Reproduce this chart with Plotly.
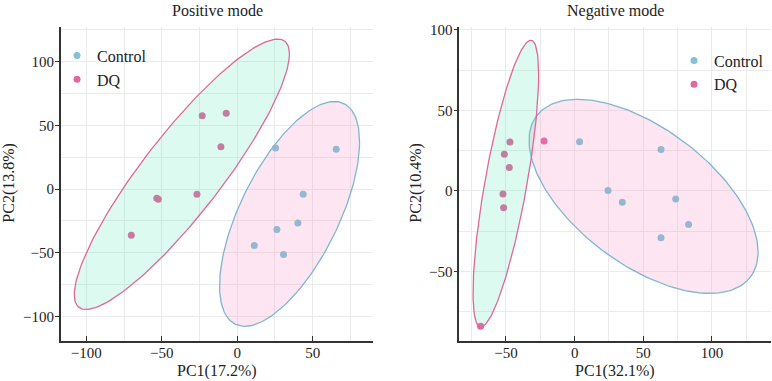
import numpy as np
import plotly.graph_objects as go

# ---------------- data ----------------
groups = ["Control", "DQ"]

# Positive mode scores
pos_control_pc1 = [25.4, 65.6, 43.7, 40.2, 26.3, 11.3, 30.7]
pos_control_pc2 = [32.3, 31.2, -4.1, -26.6, -31.8, -44.4, -51.4]
pos_dq_pc1 = [-70.2, -53.3, -52.3, -26.7, -23.2, -7.3, -10.8]
pos_dq_pc2 = [-36.2, -7.2, -8.0, -4.1, 57.6, 59.5, 33.3]

# Negative mode scores
neg_control_pc1 = [3.6, 62.9, 24.3, 34.7, 73.6, 83.0, 62.9]
neg_control_pc2 = [30.6, 25.7, 0.2, -7.0, -5.0, -20.9, -29.2]
neg_dq_pc1 = [-47.1, -51.2, -47.6, -52.2, -51.7, -68.5, -22.3]
neg_dq_pc2 = [30.4, 22.8, 14.5, -1.9, -10.5, -84.1, 31.0]

# 95% ellipse statistics: centre x, centre y, half-width x, half-height y, correlation
pos_control_ellipse = [34.7, -19.5, 46.4, 88.3, 0.64]
pos_dq_ellipse = [-36.7, 11.6, 71.3, 106.2, 0.89]
neg_control_ellipse = [50.2, -3.4, 83.4, 60.3, -0.575]
neg_dq_ellipse = [-50.1, 4.5, 23.9, 89.1, 0.76]

pct_pos = ["17.2%", "13.8%"]
pct_neg = ["32.1%", "10.4%"]

# ---------------- style ----------------
W, H = 772, 381
FONT = "Liberation Serif"
col_point = {"Control": "#80c3d6", "DQ": "#e0689e"}
col_line = {"Control": "#7fb6cf", "DQ": "#e0679a"}
col_fill = {"Control": "rgba(245,130,190,0.20)", "DQ": "rgba(60,225,165,0.18)"}


def ellipse(params, n=200):
    cx, cy, sx, sy, r = params
    t = np.linspace(0, 2 * np.pi, n)
    x = cx + sx * np.cos(t)
    y = cy + sy * (r * np.cos(t) + np.sqrt(1 - r * r) * np.sin(t))
    return x, y


fig = go.Figure()

panels = [
    ("x", "y", "legend", {"Control": (pos_control_pc1, pos_control_pc2), "DQ": (pos_dq_pc1, pos_dq_pc2)},
     {"Control": pos_control_ellipse, "DQ": pos_dq_ellipse}),
    ("x2", "y2", "legend2", {"Control": (neg_control_pc1, neg_control_pc2), "DQ": (neg_dq_pc1, neg_dq_pc2)},
     {"Control": neg_control_ellipse, "DQ": neg_dq_ellipse}),
]

for xa, ya, lg, pts, ells in panels:
    for g in groups:
        fig.add_trace(go.Scatter(
            x=pts[g][0], y=pts[g][1], mode="markers", name=g,
            marker=dict(size=7, color=col_point[g]),
            xaxis=xa, yaxis=ya, legend=lg, showlegend=True,
        ))
    for g in groups:
        ex, ey = ellipse(ells[g])
        fig.add_trace(go.Scatter(
            x=ex, y=ey, mode="lines", fill="toself", fillcolor=col_fill[g],
            line=dict(color=col_line[g], width=1.3),
            xaxis=xa, yaxis=ya, showlegend=False, hoverinfo="skip",
        ))

grid = "#ebebeb"
axis_common = dict(
    showline=True, linecolor="#333333", linewidth=1.5, mirror=False,
    showgrid=True, gridcolor=grid, gridwidth=1, zeroline=False,
    tickfont=dict(family=FONT, size=15, color="#222222"),
    tickcolor="#333333", tickwidth=1.2,
    dtick=50, tick0=0,
    minor=dict(dtick=25, showgrid=True, gridcolor=grid, gridwidth=1, ticklen=0),
)
xaxis_extra = dict(ticks="inside", ticklen=5, ticklabelstandoff=-2)
yaxis_extra = dict(ticks="outside", ticklen=4, ticklabelstandoff=-2)

ytop = 1 - 22.7 / H
ybot = 1 - 340 / H

fig.update_layout(
    width=W, height=H,
    margin=dict(l=0, r=0, t=0, b=0),
    paper_bgcolor="white", plot_bgcolor="white",
    font=dict(family=FONT, size=16, color="#222222"),
    xaxis=dict(domain=[60.7 / W, 373 / W], range=[-117, 90], anchor="y", **xaxis_extra, **axis_common),
    yaxis=dict(domain=[ybot, ytop], range=[-119, 127], anchor="x", **yaxis_extra, **axis_common),
    xaxis2=dict(domain=[459.3 / W, 771 / W], range=[-84, 143], anchor="y2", **xaxis_extra, **axis_common),
    yaxis2=dict(domain=[ybot, ytop], range=[-93, 101.6], anchor="x2", **yaxis_extra, **axis_common),
    legend=dict(x=57 / W, y=1 - 34 / H, xanchor="left", yanchor="top",
                bgcolor="rgba(0,0,0,0)", font=dict(family=FONT, size=16, color="#222222"),
                itemwidth=30, tracegroupgap=0),
    legend2=dict(x=674 / W, y=1 - 39 / H, xanchor="left", yanchor="top",
                 bgcolor="rgba(0,0,0,0)", font=dict(family=FONT, size=16, color="#222222"),
                 itemwidth=30, tracegroupgap=0),
    showlegend=True,
)

ann = [
    dict(text="Positive mode", x=217 / W, y=1 - 6 / H),
    dict(text="Negative mode", x=615 / W, y=1 - 6 / H),
    dict(text="PC1(" + pct_pos[0] + ")", x=217 / W, y=1 - 371 / H),
    dict(text="PC1(" + pct_neg[0] + ")", x=615 / W, y=1 - 371 / H),
    dict(text="PC2(" + pct_pos[1] + ")", x=9 / W, y=1 - 180 / H, textangle=-90),
    dict(text="PC2(" + pct_neg[1] + ")", x=416 / W, y=1 - 180 / H, textangle=-90),
]
for a in ann:
    fig.add_annotation(xref="paper", yref="paper", xanchor="center", yanchor="middle",
                       showarrow=False, font=dict(family=FONT, size=16, color="#222222"), **a)

fig.write_html(
    "out.html",
    config={"displayModeBar": False},
    post_script="document.body.style.margin='0';document.body.style.overflow='hidden';",
)
